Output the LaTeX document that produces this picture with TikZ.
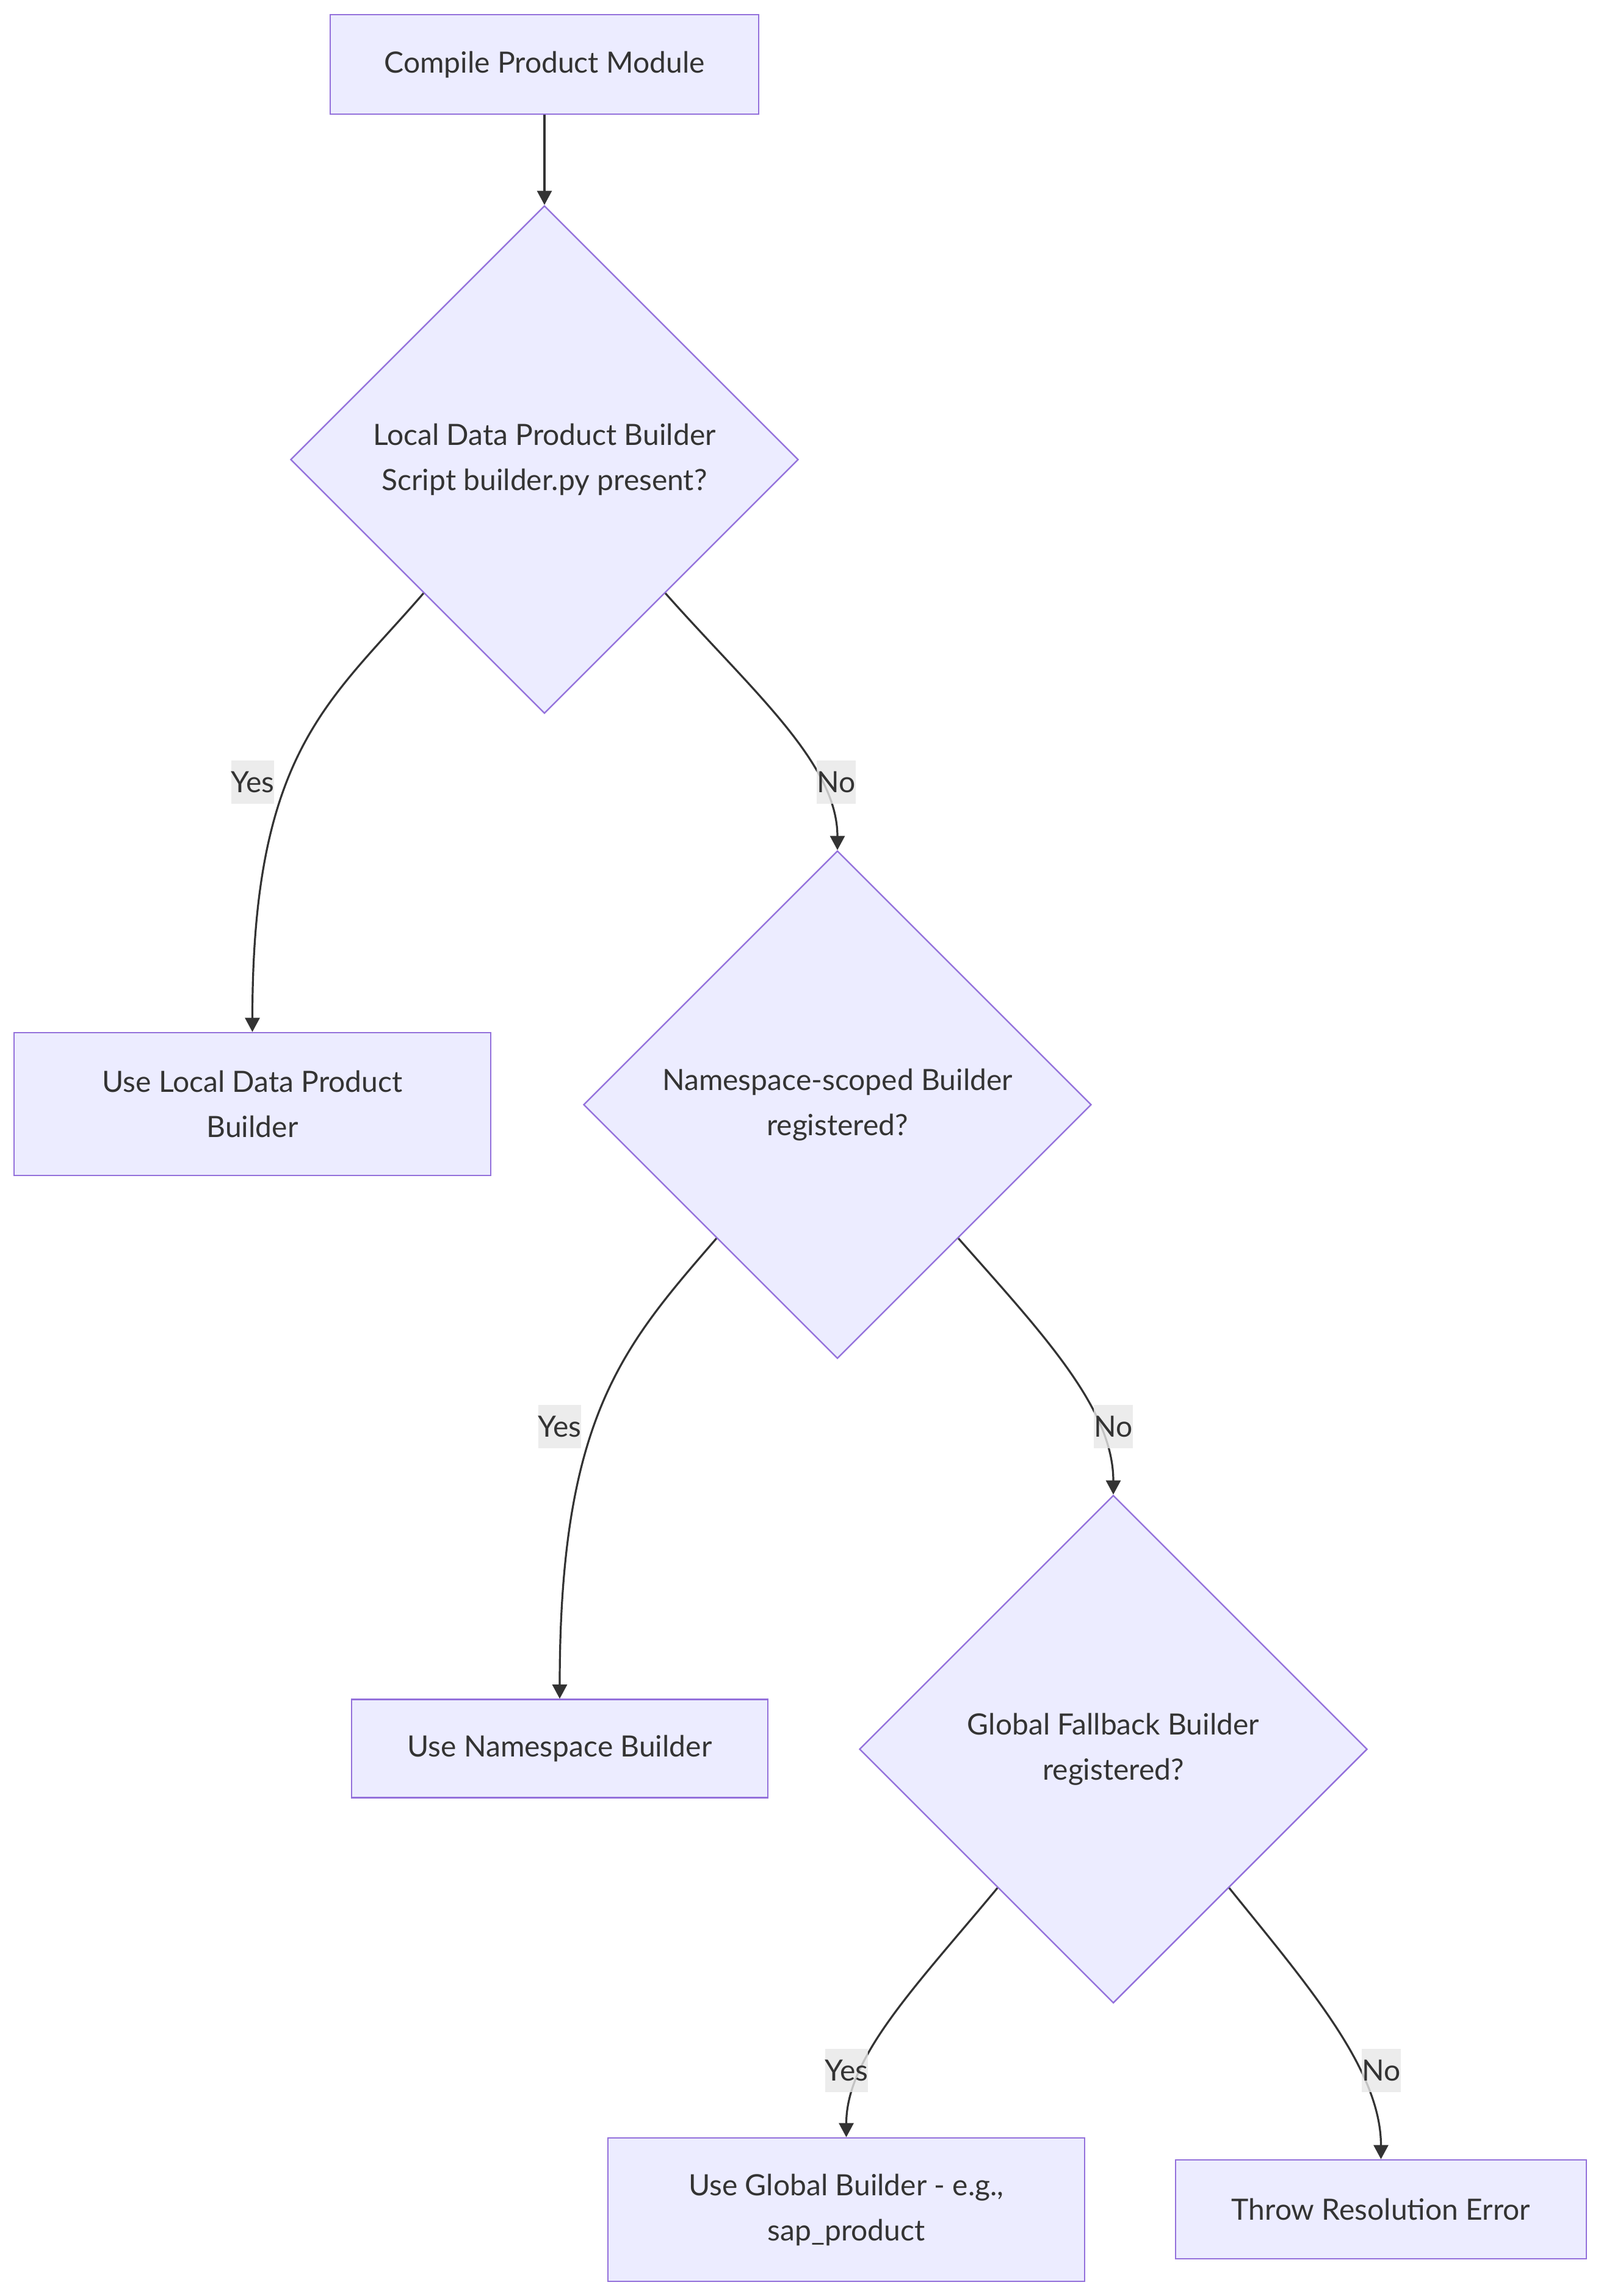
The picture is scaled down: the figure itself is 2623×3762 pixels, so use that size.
\documentclass[tikz,border=0pt]{standalone}
\usepackage{fontspec}
\setmainfont{Lato}
\usetikzlibrary{shapes.geometric,arrows.meta,calc}
\definecolor{nodefill}{HTML}{ECECFF}
\definecolor{nodeline}{HTML}{9370DB}
\definecolor{ink}{HTML}{333333}
\definecolor{lblbg}{HTML}{E8E8E8}
\begin{document}
\begin{tikzpicture}[x=0.25pt,y=-0.25pt,
  txt/.style={text=ink,font=\fontsize{12}{18.5}\selectfont,align=center},
  proc/.style={txt,rectangle,draw=nodeline,fill=nodefill,line width=0.6pt,inner sep=0pt},
  dec/.style={txt,diamond,aspect=1,draw=nodeline,fill=nodefill,line width=0.6pt,inner sep=0pt,minimum width=208pt,minimum height=208pt},
  conn/.style={draw=ink,line width=0.8pt,-{Triangle[length=5.8pt,width=6pt]}},
  lbl/.style={txt,fill=lblbg,fill opacity=0.8,text opacity=1,inner xsep=0pt,inner ysep=0pt,minimum height=17.75pt}]
\useasboundingbox[fill=white] (0,0) rectangle (2623,3762);

\node[proc,minimum width=175.5pt,minimum height=40.75pt] (c) at (892,105.5) {Compile Product Module};
\node[dec] (d1) at (892,753) {Local Data Product Builder\\ Script builder.py present?};
\node[proc,minimum width=195.25pt,minimum height=58.5pt] (local) at (413.5,1809) {Use Local Data Product\\Builder};
\node[dec] (d2) at (1372,1810) {Namespace-scoped Builder\\registered?};
\node[proc,minimum width=170.5pt,minimum height=40.25pt] (ns) at (917,2865) {Use Namespace Builder};
\node[dec] (d3) at (1824,2866) {Global Fallback Builder\\registered?};
\node[proc,minimum width=195.25pt,minimum height=58.75pt] (glob) at (1386.5,3620.5) {Use Global Builder - e.g.,\\sap\_product};
\node[proc,minimum width=168.25pt,minimum height=40.5pt] (thr) at (2262.5,3620) {Throw Resolution Error};

\draw[conn] (c) -- (d1);
\draw[conn] ($(d1.west)!0.525!(d1.south)$) .. controls (540,1150) and (413.5,1230) .. (local.north);
\draw[conn] ($(d1.east)!0.525!(d1.south)$) .. controls (1230,1130) and (1372,1250) .. (d2.north);
\draw[conn] ($(d2.west)!0.525!(d2.south)$) .. controls (1021,2206) and (917,2321) .. (ns.north);
\draw[conn] ($(d2.east)!0.525!(d2.south)$) .. controls (1708,2185) and (1824,2308) .. (d3.north);
\draw[conn] ($(d3.west)!0.545!(d3.south)$) .. controls (1500,3255) and (1386.5,3370) .. (glob.north);
\draw[conn] ($(d3.east)!0.545!(d3.south)$) .. controls (2140,3250) and (2262.5,3390) .. (thr.north);

\node[lbl] (y1) at (414,1281) {Yes};
\node[lbl] (n1) at (1370,1281) {No};
\node[lbl] (y2) at (917,2337) {Yes};
\node[lbl] (n2) at (1824,2337) {No};
\node[lbl] (y3) at (1387,3392) {Yes};
\node[lbl] (n3) at (2263,3392) {No};
\end{tikzpicture}
\end{document}
